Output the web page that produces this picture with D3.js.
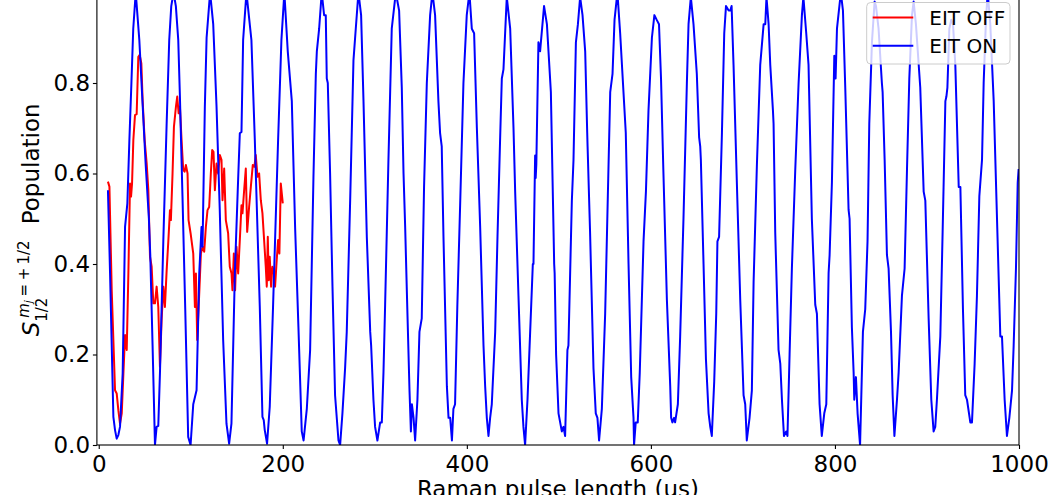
<!DOCTYPE html>
<html>
<head>
<meta charset="utf-8">
<script src="https://cdn.jsdelivr.net/npm/d3@7"></script>
<style>
  html, body { margin: 0; padding: 0; background: #ffffff; }
  svg { display: block; font-family: "DejaVu Sans", sans-serif; }
</style>
</head>
<body>
<svg id="chart" width="1061" height="495"></svg>
<script>
// Axis ticks and labels
const xTicks = [0, 200, 400, 600, 800, 1000];
const yTicks = [0, 0.2, 0.4, 0.6, 0.8, 1.0];
const xLabel = "Raman pulse length (us)";
const seriesNames = ["EIT OFF", "EIT ON"];
const seriesColors = ["#ff0000", "#0000ff"];

// EIT OFF: [pulse length (us), population]
const eitOff = [
  [10.0,.582],[11.6,.571],[14.1,.342],[17.7,.121],[19.5,.114],[21.3,.077],[23.1,.047],[25.0,.070],
  [26.8,.158],[28.6,.243],[30.4,.210],[32.2,.379],[34.0,.578],[35.1,.549],[36.2,.578],[37.6,.674],
  [39.4,.729],[41.2,.731],[43.0,.858],[44.5,.862],[46.3,.843],[47.7,.762],[49.9,.674],[52.1,.622],
  [53.9,.563],[55.7,.416],[57.5,.394],[59.3,.313],[61.1,.313],[62.9,.350],[64.7,.305],[66.5,.173],
  [68.3,.276],[70.2,.350],[71.9,.305],[73.8,.386],[75.6,.450],[77.4,.519],[78.4,.497],[80.2,.600],
  [81.7,.703],[83.9,.748],[85.3,.770],[86.8,.733],[88.2,.748],[90.0,.674],[91.8,.608],[93.3,.604],
  [94.7,.619],[96.5,.600],[97.6,.497],[99.8,.468],[102.7,.423],[104.5,.305],[105.6,.379],[107.0,.232],
  [109.2,.335],[111.0,.423],[112.8,.438],[114.6,.427],[116.4,.482],[118.2,.519],[120.0,.526],[121.8,.600],
  [123.3,.652],[124.7,.648],[126.2,.563],[128.0,.622],[129.8,.600],[131.6,.641],[133.4,.630],[134.5,.541],
  [136.3,.611],[138.1,.497],[140.6,.468],[142.4,.394],[144.3,.379],[145.3,.342],[146.8,.423],[148.2,.342],
  [149.7,.438],[151.5,.379],[153.3,.453],[155.1,.530],[156.2,.512],[158.0,.563],[159.8,.611],[161.3,.471],
  [163.4,.526],[165.6,.578],[167.4,.619],[169.2,.615],[170.6,.641],[172.5,.593],[174.3,.600],[176.1,.541],
  [177.9,.512],[179.7,.453],[181.5,.394],[182.6,.350],[183.7,.460],[184.7,.364],[185.8,.416],[187.3,.350],
  [188.7,.394],[190.2,.386],[191.6,.350],[193.4,.409],[194.9,.453],[196.3,.423],[197.8,.578],[200.0,.534]
];

// EIT ON: [pulse length (us), population]
const eitOn = [
  [10.0,.563],[12.3,.379],[15.9,.062],[17.7,.033],[19.5,.014],[21.3,.022],[23.1,.040],[26.0,.158],
  [28.6,.482],[31.1,.534],[33.3,.674],[35.5,.80],[37.5,.92],[40.2,1.0],[44.1,.895],[47.5,.76],
  [51.0,.62],[54.5,.50],[56.0,.42],[58.5,.22],[61.1,.0],[62.9,.04],[64.7,.042],[66.5,.158],
  [70.2,.453],[73.8,.711],[76.6,.895],[78.8,.97],[81.3,1.0],[83.8,.97],[86.4,.895],[88.2,.77],
  [91.0,.55],[94.0,.30],[97.2,.018],[99.8,.0],[102.7,.09],[106.3,.121],[109.2,.379],[111.7,.482],
  [112.8,.438],[115.3,.748],[117.2,.90],[121.0,1.0],[124.4,.93],[128.0,.748],[131.5,.52],[135.2,.232],
  [138.8,.047],[141.7,.003],[144.2,.047],[147.9,.379],[151.0,.56],[153.3,.689],[155.1,.692],[156.9,.895],
  [160.5,1.0],[165.9,.895],[169.6,.674],[175.0,.305],[177.9,.062],[179.3,.055],[180.4,.033],[182.9,.003],
  [185.8,.084],[189.4,.305],[194.9,.674],[198.5,.895],[201.7,1.0],[205.4,.87],[209.8,.76],[213.4,.48],
  [217.0,.26],[220.6,.03],[222.6,.01],[226.1,.08],[229.7,.21],[233.3,.59],[235.9,.82],[237.0,.87],
  [239.5,.92],[242.3,1.0],[244.9,.95],[246.7,.95],[247.8,.81],[248.9,.80],[251.4,.60],[254.0,.35],
  [256.8,.11],[260.5,.01],[262.3,.0],[264.8,.07],[267.7,.17],[269.5,.25],[273.2,.54],[276.8,.85],
  [279.3,.92],[282.2,1.0],[285.1,.95],[287.7,.76],[291.3,.46],[295.0,.25],[296.0,.22],[298.5,.10],
  [300.3,.04],[302.8,.01],[305.8,.05],[307.6,.05],[309.4,.16],[311.2,.31],[314.8,.63],[318.4,.92],
  [322.8,1.0],[326.4,.96],[329.3,.79],[331.2,.60],[333.0,.48],[334.8,.34],[337.7,.12],[339.2,.03],
  [340.3,.09],[342.1,.06],[343.8,.01],[346.3,.10],[348.5,.25],[351.0,.28],[353.5,.57],[356.5,.80],
  [360.1,.95],[362.6,1.0],[365.5,.95],[369.1,.76],[370.9,.69],[372.7,.66],[374.6,.46],[378.3,.13],
  [380.1,.06],[381.9,.06],[383.8,.01],[385.4,.08],[387.2,.09],[389.7,.31],[392.7,.53],[396.3,.80],
  [399.9,.95],[402.8,1.0],[405.4,.92],[407.9,.91],[410.9,.70],[414.5,.48],[418.1,.22],[419.9,.13],
  [421.7,.06],[423.5,.02],[425.3,.06],[427.1,.09],[430.8,.25],[433.3,.46],[436.2,.68],[438.0,.81],
  [439.8,.83],[443.4,.99],[447.1,.92],[450.7,.70],[452.5,.56],[456.1,.33],[459.7,.10],[461.5,.04],
  [463.3,.0],[465.9,.10],[468.8,.25],[471.7,.40],[472.4,.40],[474.2,.64],[474.8,.59],[475.5,.62],
  [477.8,.89],[479.6,.87],[483.9,.97],[487.0,.93],[491.3,.78],[493.0,.60],[494.9,.40],[495.4,.38],
  [497.0,.20],[499.6,.07],[501.4,.05],[503.2,.03],[505.0,.04],[506.8,.02],[509.3,.21],[510.4,.22],
  [514.1,.54],[515.9,.63],[518.5,.89],[520.7,.93],[523.1,.99],[525.7,.95],[528.6,.87],[530.8,.69],
  [531.2,.66],[533.9,.47],[537.6,.17],[540.1,.07],[541.9,.06],[543.7,.01],[546.7,.08],[550.3,.29],
  [553.2,.55],[555.8,.78],[558.3,.82],[560.5,.94],[563.6,1.0],[566.6,.91],[570.2,.78],[572.7,.69],
  [575.7,.40],[578.6,.15],[581.1,.06],[581.7,.0],[583.5,.05],[585.7,.05],[587.9,.16],[592.0,.45],
  [594.6,.56],[597.4,.74],[601.1,.90],[603.8,.95],[606.2,.94],[608.8,.93],[611.0,.81],[613.5,.61],
  [617.4,.32],[621.0,.13],[622.0,.06],[623.4,.05],[625.2,.06],[626.3,.05],[629.3,.09],[631.8,.24],
  [635.4,.50],[639.1,.80],[640.9,.93],[643.4,.99],[646.3,.93],[649.9,.82],[652.4,.68],[653.6,.66],
  [654.3,.63],[657.2,.40],[659.8,.19],[662.7,.07],[664.5,.04],[666.2,.02],[668.8,.14],[671.0,.29],
  [672.3,.45],[674.1,.46],[677.2,.69],[679.7,.91],[681.6,.97],[684.5,.96],[686.3,.96],[687.7,.97],
  [689.8,.84],[693.4,.58],[697.1,.32],[700.7,.11],[702.5,.09],[704.2,.01],[707.2,.06],[709.7,.12],
  [711.6,.36],[715.2,.62],[718.8,.84],[722.5,.93],[724.3,.93],[725.6,.99],[727.9,.93],[729.7,.84],
  [732.6,.74],[733.3,.71],[735.1,.47],[738.7,.21],[740.6,.18],[742.4,.10],[744.6,.02],[747.0,.03],
  [748.4,.02],[750.7,.20],[753.2,.39],[756.9,.61],[760.5,.80],[764.1,.95],[765.7,.99],[768.8,.91],
  [771.3,.84],[774.9,.50],[778.6,.31],[780.4,.29],[783.3,.09],[785.7,.02],[788.4,.07],[790.6,.09],
  [793.1,.38],[794.2,.42],[796.7,.58],[799.3,.86],[800.7,.81],[802.2,.92],[806.4,1.0],[808.7,.96],
  [811.2,.79],[814.8,.52],[815.9,.50],[818.4,.26],[820.3,.16],[821.0,.10],[822.8,.15],[824.6,.07],
  [827.3,.0],[830.4,.25],[832.9,.30],[835.4,.45],[837.3,.71],[840.2,.89],[843.1,.98],[844.6,.97],
  [847.4,.92],[851.0,.80],[851.8,.78],[854.0,.63],[856.5,.42],[858.3,.39],[860.9,.25],[862.7,.11],
  [864.6,.02],[867.4,.10],[869.2,.16],[872.8,.33],[875.7,.39],[878.3,.61],[880.8,.81],[883.7,.95],
  [885.5,.98],[888.0,.93],[892.7,.79],[896.4,.56],[898.2,.54],[901.8,.28],[904.7,.10],[907.2,.03],
  [909.0,.04],[910.8,.10],[914.5,.24],[917.0,.47],[920.0,.76],[921.1,.77],[922.2,.79],[924.3,.92],
  [926.4,.94],[928.3,.93],[930.8,.84],[934.5,.57],[936.3,.57],[939.1,.30],[941.6,.11],[943.5,.10],
  [947.1,.05],[948.9,.05],[951.8,.18],[954.3,.33],[956.9,.55],[959.8,.63],[961.6,.80],[964.1,.94],
  [966.0,1.0],[968.8,.93],[972.5,.76],[976.1,.50],[979.7,.24],[981.5,.24],[984.4,.10],[986.9,.02],
  [989.5,.06],[992.4,.12],[994.2,.22],[996.7,.39],[998.6,.58],[999.6,.61]
];

// Layout
const plot = { left: 96.9, right: 1019, top: -7.5, bottom: 445 };
const fontFamily = "DejaVu Sans, sans-serif";

const x = d3.scaleLinear().domain([-2, 1000]).range([plot.left, plot.right]);
const y = d3.scaleLinear().domain([0, 1]).range([plot.bottom, plot.top]);

const svg = d3.select("#chart");

svg.append("defs").append("clipPath").attr("id", "plotClip")
  .append("rect")
  .attr("x", plot.left).attr("y", plot.top)
  .attr("width", plot.right - plot.left).attr("height", plot.bottom - plot.top);

// Data lines
const line = d3.line().x(d => x(d[0])).y(d => y(d[1]));
const lines = svg.append("g").attr("clip-path", "url(#plotClip)");
[eitOff, eitOn].forEach((series, i) => {
  lines.append("path")
    .datum(series)
    .attr("d", line)
    .attr("fill", "none")
    .attr("stroke", seriesColors[i])
    .attr("stroke-width", 2)
    .attr("stroke-linejoin", "round")
    .attr("stroke-linecap", "butt");
});

// Axes
const xAxisG = svg.append("g")
  .attr("transform", `translate(0,${plot.bottom})`)
  .call(d3.axisBottom(x).tickValues(xTicks).tickFormat(d3.format("d"))
    .tickSize(4).tickSizeOuter(0).tickPadding(6.4));
xAxisG.attr("font-family", fontFamily).attr("font-size", 23);
xAxisG.select(".domain").remove();
xAxisG.selectAll(".tick line").attr("stroke", "#000").attr("stroke-width", 1.1);
xAxisG.selectAll(".tick text").attr("fill", "#000");

const yAxisG = svg.append("g")
  .attr("transform", `translate(${plot.left},0)`)
  .call(d3.axisLeft(y).tickValues(yTicks).tickFormat(d3.format(".1f"))
    .tickSize(4).tickSizeOuter(0).tickPadding(2.9));
yAxisG.attr("font-family", fontFamily).attr("font-size", 23);
yAxisG.select(".domain").remove();
yAxisG.selectAll(".tick line").attr("stroke", "#000").attr("stroke-width", 1.1);
yAxisG.selectAll(".tick text").attr("fill", "#000");

// Frame
svg.append("rect")
  .attr("x", plot.left).attr("y", plot.top)
  .attr("width", plot.right - plot.left).attr("height", plot.bottom - plot.top)
  .attr("fill", "none").attr("stroke", "#000").attr("stroke-width", 1.1);

// X axis title
svg.append("text")
  .attr("x", (plot.left + plot.right) / 2)
  .attr("y", 497)
  .attr("text-anchor", "middle")
  .attr("font-family", fontFamily)
  .attr("font-size", 23)
  .attr("fill", "#000")
  .text(xLabel);

// Y axis title: S_{1/2}^{m_j=+1/2} Population
const yTitle = svg.append("g")
  .attr("transform", `translate(39,${(plot.top + plot.bottom) / 2}) rotate(-90)`)
  .attr("font-family", fontFamily)
  .attr("fill", "#000");
yTitle.append("text").attr("x", -117.5).attr("y", 0)
  .attr("font-size", 23).attr("font-style", "italic").text("S");
yTitle.append("text").attr("x", -103).attr("y", 7.5)
  .attr("font-size", 15).text("1/2");
const sup = yTitle.append("text").attr("x", -99).attr("y", -10.5).attr("font-size", 15);
sup.append("tspan").attr("font-style", "italic").text("m");
sup.append("tspan").attr("font-style", "italic").attr("font-size", 10.5).attr("dy", 3).text("j");
sup.append("tspan").attr("dy", -3).text("\u2005=\u2005+\u20091/2");
yTitle.append("text").attr("x", -5.5).attr("y", 0)
  .attr("font-size", 23).text("Population");

// Legend
const legend = svg.append("g");
legend.append("rect")
  .attr("x", 866.7).attr("y", 2.5).attr("width", 143.3).attr("height", 61.5)
  .attr("rx", 4).attr("ry", 4)
  .attr("fill", "#ffffff").attr("fill-opacity", 0.8)
  .attr("stroke", "#cccccc").attr("stroke-width", 1);
seriesNames.forEach((name, i) => {
  const cy = 17.5 + i * 28.3;
  legend.append("line")
    .attr("x1", 872.7).attr("x2", 913.3).attr("y1", cy).attr("y2", cy)
    .attr("stroke", seriesColors[i]).attr("stroke-width", 2);
  legend.append("text")
    .attr("x", 929.3).attr("y", cy).attr("dy", "0.36em")
    .attr("font-family", fontFamily).attr("font-size", 20)
    .attr("fill", "#000").text(name);
});
</script>
</body>
</html>
